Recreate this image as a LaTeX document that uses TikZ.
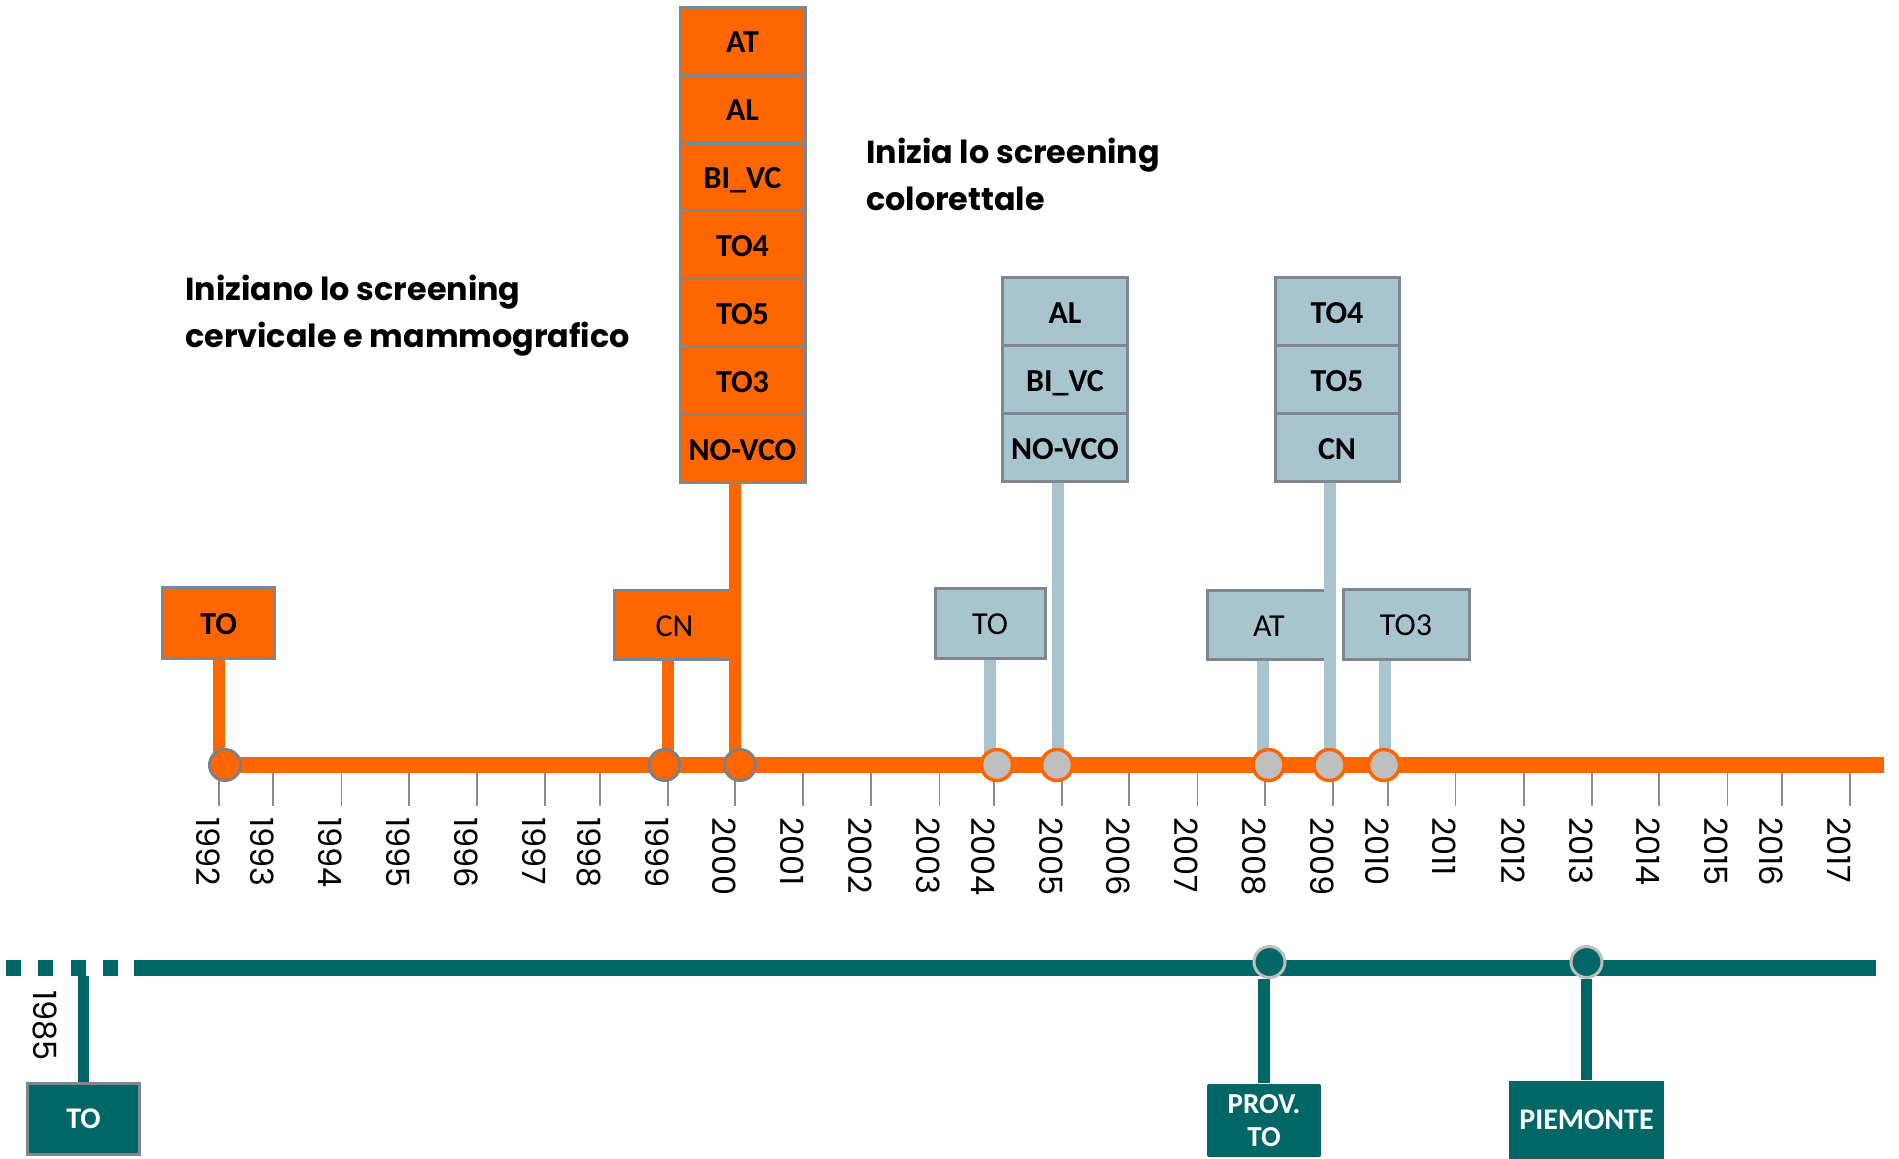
\documentclass[tikz,border=0pt]{standalone}
\usepackage{fontspec}
\setmainfont{Carlito}
\newfontfamily\titlefont{Poppins}
\newfontfamily\yearfont{Poppins}
\usetikzlibrary{positioning}
\definecolor{scrOrange}{HTML}{FF6600}
\definecolor{scrBlue}{HTML}{A8C5CF}
\definecolor{scrTeal}{HTML}{006666}
\definecolor{scrEdge}{HTML}{7F868F}
\definecolor{scrDot}{HTML}{BFBFBF}
\definecolor{scrRing}{HTML}{808080}

\begin{document}
\begin{tikzpicture}[x=1pt,y=-1pt,
    basecell/.style={draw=scrEdge,line width=3pt,inner sep=0pt,
      minimum width=125pt,minimum height=68pt},
    cell/.style={basecell,font=\fontsize{32}{37}\selectfont\bfseries,
      text height=23.5pt,text depth=0pt},
    plain/.style={font=\fontsize{32}{37}\selectfont},
    orangecell/.style={cell,fill=scrOrange},
    bluecell/.style={cell,fill=scrBlue},
    tealcell/.style={basecell,fill=scrTeal,text=white,
      font=\fontsize{30}{33}\selectfont\bfseries},
    linkO/.style={draw=scrOrange,line width=11.5pt},
    linkB/.style={draw=scrBlue,line width=11.5pt},
    linkT/.style={draw=scrTeal,line width=11.5pt},
    dotO/.style={circle,draw=scrRing,fill=scrOrange,line width=3pt,
      inner sep=0pt,minimum size=31pt},
    dotB/.style={circle,draw=scrOrange,fill=scrDot,line width=3.5pt,
      inner sep=0pt,minimum size=31pt},
    dotT/.style={circle,draw=scrDot,fill=scrTeal,line width=3pt,
      inner sep=0pt,minimum size=31pt},
    tick/.style={draw=black!45,line width=1.5pt},
    year/.style={rotate=-90,anchor=north west,inner sep=0pt,
      font=\yearfont\fontsize{32}{32}\selectfont},
    title/.style={anchor=north west,align=left,inner sep=0pt,
      font=\titlefont\bfseries\fontsize{31.8}{47}\selectfont}
  ]
  \useasboundingbox (0,0) rectangle (1899,1159);

  % year scale
  \foreach \yr/\xx in {1992/219,1993/273,1994/341.5,1995/409,1996/477,
      1997/545,1998/600,1999/668,2000/735,2001/803,2002/871,2003/939.5,
      2004/994,2005/1062,2006/1129,2007/1197.5,2008/1265,2009/1333,
      2010/1388,2011/1455.6,2012/1524,2013/1592,2014/1659,2015/1727.6,
      2016/1782,2017/1850}{
    \draw[tick] (\xx,765) -- (\xx,806);
    \node[year] (y\yr) at (\xx+1,817) {\yr};
  }

  % titles
  \node[title] (titCM) at (185,275)
    {Iniziano lo screening\\cervicale e mammografico};
  \node[title] (titCR) at (866,138)
    {Inizia lo screening\\colorettale};

  % cervical and breast screening
  \node[orangecell,minimum width=112pt,minimum height=71pt] (oTO)
    at (218.75,622.5) {TO};
  \node[orangecell,plain,minimum width=121pt,minimum height=69pt] (oCN)
    at (674.5,624.5) {CN};
  \foreach \lab [count=\i from 0] in {AT,AL,BI\_VC,TO4,TO5,TO3,NO-VCO}
    \node[orangecell] (o\i) at (742.5,41.2+67.9*\i) {\lab};

  % colorectal screening
  \node[bluecell,plain,minimum width=110pt,minimum height=70pt] (bTO)
    at (990,623) {TO};
  \node[bluecell,plain,minimum width=123pt,minimum height=69pt] (bAT)
    at (1269,624.5) {AT};
  \node[bluecell,plain,minimum width=126pt,minimum height=70pt] (bTOthree)
    at (1406,624) {TO3};
  \foreach \lab [count=\i from 0] in {AL,BI\_VC,NO-VCO}
    \node[bluecell] (p\i) at (1065,311.7+68*\i) {\lab};
  \foreach \lab [count=\i from 0] in {TO4,TO5,CN}
    \node[bluecell,minimum width=124pt] (q\i) at (1337,311.7+68*\i) {\lab};

  % stems
  \coordinate (k1992) at (219,765);
  \coordinate (k1999) at (668,765);
  \coordinate (k2000) at (735,765);
  \coordinate (k2004) at (990,765);
  \coordinate (k2005) at (1058,765);
  \coordinate (k2008) at (1263,765);
  \coordinate (k2009) at (1330,765);
  \coordinate (k2010) at (1385,765);
  \draw[linkO] (oTO.south -| k1992) -- (k1992);
  \draw[linkO] (oCN.south -| k1999) -- (k1999);
  \draw[linkO] (o6.south -| k2000) -- (k2000);
  \draw[linkB] (bTO.south -| k2004) -- (k2004);
  \draw[linkB] (p2.south -| k2005) -- (k2005);
  \draw[linkB] (bAT.south -| k2008) -- (k2008);
  \draw[linkB] (q2.south -| k2009) -- (k2009);
  \draw[linkB] (bTOthree.south -| k2010) -- (k2010);

  % main line
  \coordinate (oEnd) at (1884,765);
  \draw[scrOrange,line width=16pt] (225,765) -- (oEnd);
  \node[dotO] (d1992) at (225,765) {};
  \node[dotO] (d1999) at (664.5,765) {};
  \node[dotO] (d2000) at (740,765) {};
  \node[dotB] (d2004) at (997,765) {};
  \node[dotB] (d2005) at (1057,765) {};
  \node[dotB] (d2008) at (1268.5,765) {};
  \node[dotB] (d2009) at (1329.5,765) {};
  \node[dotB] (d2010) at (1384,765) {};

  % organised programme line
  \coordinate (tStart) at (6,968);
  \coordinate (tDash) at (119,968);
  \coordinate (tSolid) at (134,968);
  \coordinate (tEnd) at (1876,968);
  \draw[scrTeal,line width=16pt,dash pattern=on 15pt off 17.3pt]
    (tStart) -- (tDash);
  \draw[scrTeal,line width=16pt] (tSolid) -- (tEnd);

  \node[tealcell,minimum width=112pt,minimum height=71pt] (tTO)
    at (83.5,1118.5) {TO};
  \node[tealcell,draw=none,rounded corners=2pt,align=center,
    minimum width=114pt,minimum height=73pt,
    font=\fontsize{29}{33}\selectfont\bfseries] (tPROV)
    at (1264,1120.5) {PROV.\\TO};
  \node[tealcell,draw=none,minimum width=155pt,minimum height=78pt] (tPIEM)
    at (1586.5,1120) {PIEMONTE};
  \node[year] (y1985) at (57,990) {1985};

  \coordinate (k1985) at (83.5,976);
  \node[dotT] (d2008t) at (1269.5,962) {};
  \node[dotT] (d2013t) at (1586.5,962) {};
  \draw[linkT] (k1985) -- (tTO.north -| k1985);
  \draw[linkT] (d2008t.south -| tPROV.north) -- (tPROV.north);
  \draw[linkT] (d2013t.south) -- (tPIEM.north);
\end{tikzpicture}
\end{document}
